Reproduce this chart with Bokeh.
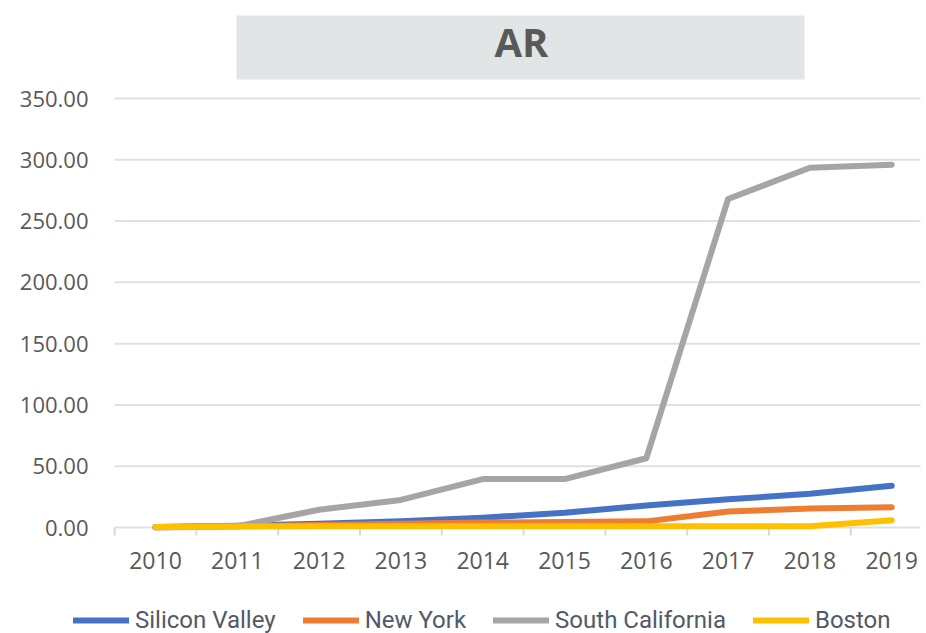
from bokeh.plotting import figure
from bokeh.models import Range1d, Legend, LegendItem, BoxAnnotation, Label
from bokeh.embed import file_html
from bokeh.resources import INLINE

# ---- data ----
years = ["2010", "2011", "2012", "2013", "2014", "2015", "2016", "2017", "2018", "2019"]
silicon_valley = [0.5, 1.5, 3.0, 5.0, 8.0, 12.0, 18.0, 23.0, 27.5, 34.0]
new_york = [0.2, 1.0, 2.0, 3.0, 4.0, 4.5, 5.0, 13.0, 15.5, 16.5]
south_california = [0.0, 1.0, 14.5, 22.5, 39.5, 39.5, 56.5, 268.0, 293.5, 296.0]
boston = [0.5, 0.8, 1.0, 1.0, 1.0, 1.0, 1.0, 1.0, 1.0, 6.0]
y_ticks = [0, 50, 100, 150, 200, 250, 300, 350]
title_text = "AR"

series = [("Silicon Valley", silicon_valley, "#4472C4"),
          ("New York", new_york, "#ED7D31"),
          ("South California", south_california, "#A5A5A5"),
          ("Boston", boston, "#FFC000")]

# ---- layout (pixels on the canvas) ----
W, H = 926, 633
X0, DX = 155.0, 81.8          # pixel of first category centre, pixels per category
Y0 = 527.0                    # pixel of value 0
DY = (527.0 - 98.0) / 350.0   # pixels per unit value

def dx(px):
    return (px - X0) / DX

def dy(py):
    return (Y0 - py) / DY

xs = list(range(len(years)))

p = figure(output_backend="svg", toolbar_location=None, width=W, height=H,
           x_range=Range1d(dx(0), dx(W)), y_range=Range1d(dy(H), dy(0)),
           x_axis_location=None, y_axis_location=None,
           min_border=0, min_border_left=0, min_border_right=0,
           min_border_top=0, min_border_bottom=0)
p.outline_line_color = None
p.grid.visible = False
p.background_fill_color = "white"
p.border_fill_color = "white"

# gridlines + base axis
grid_x0 = dx(114)
grid_x1 = dx(920)
p.segment(x0=[grid_x0] * len(y_ticks), x1=[grid_x1] * len(y_ticks),
          y0=y_ticks, y1=y_ticks, line_color="#DDE1E6", line_width=2)

# category boundary tick marks below the base axis
bounds = [i - 0.5 for i in range(len(years) + 1)]
tick_len = 8 / DY
p.segment(x0=bounds, x1=bounds, y0=[0] * len(bounds), y1=[-tick_len] * len(bounds),
          line_color="#D9D9D9", line_width=2)

# y tick labels
p.text(x=[dx(88)] * len(y_ticks), y=y_ticks, text=["%.2f" % t for t in y_ticks],
       text_align="right", text_baseline="middle", text_font_size="22px",
       text_font={"value": "Open Sans"}, text_color="#595959")

# x tick labels
p.text(x=xs, y=[0] * len(xs), text=years, y_offset=33,
       text_align="center", text_baseline="middle", text_font_size="23px",
       text_font={"value": "Open Sans"}, text_color="#595959")

# data lines
renderers = []
for name, vals, col in series:
    r = p.line(xs, vals, line_width=6, line_color=col, line_cap="round", line_join="round")
    renderers.append((name, r))

# legend (bottom-left corner in frame pixels, measured upward)
legend = Legend(items=[LegendItem(label=n, renderers=[r]) for n, r in renderers],
                orientation="horizontal", location=(73, -1),
                glyph_width=56, glyph_height=20, label_standoff=6, spacing=27,
                border_line_color=None, background_fill_alpha=0,
                label_text_font="Roboto", label_text_font_size="24px",
                label_text_color="#505A68", padding=0, margin=0)
p.add_layout(legend)

# title box
box = BoxAnnotation(left=dx(236), right=dx(804), top=dy(15), bottom=dy(79),
                    fill_color="#E2E5E6", fill_alpha=1, line_color=None)
p.add_layout(box)
title = Label(x=dx(521), y=dy(41), text=title_text, text_align="center",
              text_baseline="middle", text_font="Open Sans", text_font_style="bold",
              text_font_size="40px", text_color="#595959")
p.add_layout(title)

open("out.html", "w").write(file_html(p, INLINE))
